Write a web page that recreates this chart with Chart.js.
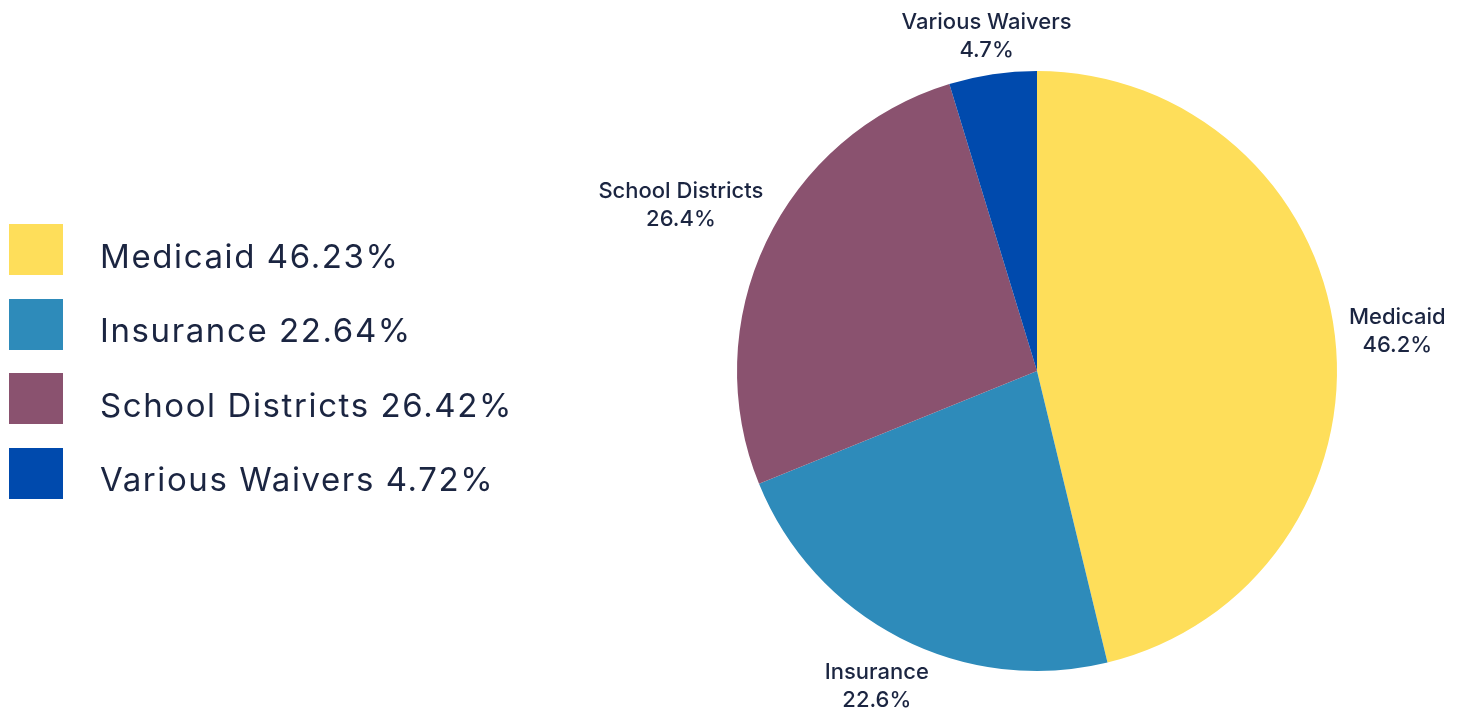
<!DOCTYPE html>
<html>
<head>
<meta charset="utf-8">
<script src="https://cdn.jsdelivr.net/npm/chart.js@4/dist/chart.umd.min.js"></script>
<style>
  html, body { margin: 0; padding: 0; background: #fff; }
  #wrap { position: relative; width: 1458px; height: 710px; }
  #chart { position: absolute; left: 0; top: 0; }
  #legend { position: absolute; left: 9px; top: 224px; }
  .item { display: flex; align-items: center; height: 51px; margin-bottom: 23.5px; }
  .box { width: 54px; height: 51px; }
  .txt { margin-left: 37px; position: relative; top: 6px; font-family: Inter, sans-serif; font-size: 33px; letter-spacing: 1.6px; color: #1b2541; }
</style>
</head>
<body>
<div id="wrap">
  <canvas id="chart" width="1458" height="710"></canvas>
  <div id="legend"></div>
</div>
<script>
const categories = ['Medicaid', 'Insurance', 'School Districts', 'Various Waivers'];
const shares = [46.23, 22.64, 26.42, 4.72];
const colors = ['#FEDE5A', '#2E8BBA', '#8A526F', '#004AAD'];

// HTML legend
const legend = document.getElementById('legend');
categories.forEach((name, i) => {
  const row = document.createElement('div');
  row.className = 'item';
  row.innerHTML = '<div class="box" style="background:' + colors[i] + '"></div>' +
    '<div class="txt">' + name + ' ' + shares[i].toFixed(2) + '%</div>';
  legend.appendChild(row);
});

// outside labels, placed just beyond each arc
const outsideLabels = {
  id: 'outsideLabels',
  afterDatasetsDraw(chart) {
    const ctx = chart.ctx;
    const meta = chart.getDatasetMeta(0);
    ctx.save();
    ctx.font = '500 22px Inter, sans-serif';
    ctx.fillStyle = '#1b2541';
    ctx.textAlign = 'center';
    ctx.textBaseline = 'middle';
    meta.data.forEach((arc, i) => {
      const mid = (arc.startAngle + arc.endAngle) / 2;
      const line1 = categories[i];
      const line2 = shares[i].toFixed(1) + '%';
      const hw = Math.max(ctx.measureText(line1).width, ctx.measureText(line2).width) / 2;
      const hh = 16;
      const cos = Math.cos(mid), sin = Math.sin(mid);
      const r = arc.outerRadius + 13 + hw * Math.abs(cos) + hh * Math.abs(sin);
      const x = arc.x + r * cos;
      const y = arc.y + r * sin + 3.5;
      ctx.fillText(line1, x, y - 14);
      ctx.fillText(line2, x, y + 14);
    });
    ctx.restore();
  }
};

new Chart(document.getElementById('chart'), {
  type: 'pie',
  data: {
    labels: categories,
    datasets: [{
      data: shares,
      backgroundColor: colors,
      borderWidth: 0
    }]
  },
  options: {
    responsive: false,
    animation: false,
    layout: { padding: { left: 737, right: 121, top: 71, bottom: 39 } },
    plugins: {
      legend: { display: false },
      tooltip: { enabled: false }
    }
  },
  plugins: [outsideLabels]
});
</script>
</body>
</html>
